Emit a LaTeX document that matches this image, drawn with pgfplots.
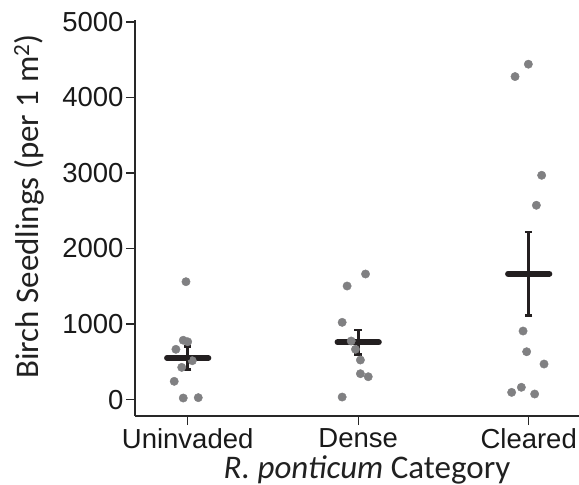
\documentclass[border=0pt]{standalone}
\usepackage{fontspec}
\setmainfont{Liberation Sans}
\newfontfamily\calibri{Carlito}
\usepackage{pgfplots}
\pgfplotsset{compat=1.18}
\definecolor{ptgrey}{RGB}{128,128,130}
\definecolor{barblack}{RGB}{35,31,32}
\definecolor{axisgrey}{RGB}{40,40,40}
\begin{document}
\begin{tikzpicture}
\begin{axis}[
  at={(0,0)}, anchor=south west,
  scale only axis, width=444pt, height=396pt,
  xmin=-0.309, xmax=2.295, ymin=-218, ymax=5025,
  axis x line*=bottom, axis y line*=left,
  axis line style={axisgrey, line width=1.3pt, -},
  tick style={axisgrey, line width=1.3pt},
  tick align=outside, major tick length=9pt,
  xtick={0,1,2}, xticklabels={Uninvaded,Dense,Cleared},
  ytick={0,1000,...,5000},
  /pgf/number format/assume math mode=true,
  /pgf/number format/set thousands separator={},
  ticklabel style={font=\fontsize{27.5}{31}\selectfont, text=black!90},
  yticklabel style={xshift=1pt},
  xlabel={\textit{R. ponticum} Category},
  ylabel={Birch Seedlings (per 1 m\textsuperscript{2})},
  label style={font=\calibri\fontsize{33}{38}\selectfont, text=black!87},
  xlabel style={at={(axis description cs:0.5226,-0.1566)}, anchor=base},
  ylabel style={at={(axis description cs:-0.239,0.529)}, anchor=center},
]
% individual observations
\addplot[only marks, mark=*, mark size=4.2pt, color=ptgrey, mark options={draw=none, fill=ptgrey}] table {
x y
-0.010 1560
-0.026 785
0.000 765
-0.069 665
0.027 514
-0.035 426
-0.079 241
-0.026 20
0.062 25
1.043 1662
0.935 1503
0.906 1022
0.959 775
0.984 665
1.013 523
1.013 342
1.059 302
0.906 33
1.998 4440
1.920 4276
2.076 2969
2.045 2572
1.967 907
1.988 633
2.090 470
1.957 162
1.900 95
2.035 73
};
% standard error bars
\addplot[barblack, only marks, mark=none, error bars/.cd, y dir=both, y explicit,
  error bar style={barblack, line width=2.8pt},
  error mark=-,
  error mark options={barblack, line width=2.6pt, mark size=3.8pt, rotate=90}]
coordinates {(0,550) +- (0,150) (1,758) +- (0,160) (2,1665) +- (0,555)};
% mean crossbars
\addplot[barblack, only marks, mark=none, error bars/.cd, x dir=both, x fixed=0.121,
  error mark=none,
  error bar style={barblack, line width=6pt, line cap=round}]
coordinates {(0,550) (1,758) (2,1665)};
\end{axis}
\pgfresetboundingbox
\path[use as bounding box] (-135pt,-69pt) rectangle (444pt,416pt);
\end{tikzpicture}
\end{document}
